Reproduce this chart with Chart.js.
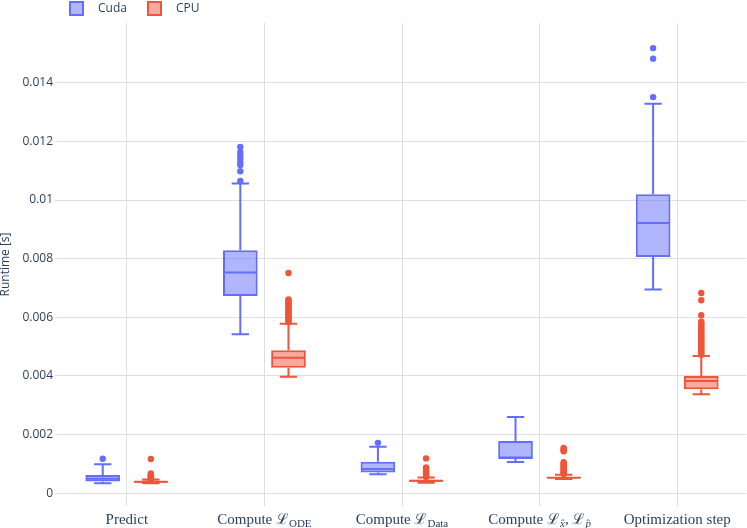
<!DOCTYPE html>
<html>
<head>
<meta charset="utf-8">
<script src="https://cdn.jsdelivr.net/npm/chart.js@4.4.1/dist/chart.umd.min.js"></script>
<style>
    html, body { margin: 0; padding: 0; background: #fff; }
    #wrap { width: 747px; height: 528px; }
</style>
</head>
<body>
<div id="wrap"><canvas id="runtimeChart"></canvas></div>
<script>
// Categories, _{...} marks a subscript
const categories = ['Predict', 'Compute ℒ_{ODE}', 'Compute ℒ_{Data}', 'Compute ℒ_{x̂}, ℒ_{p̂}', 'Optimization step'];
const yTicks = [0, 0.002, 0.004, 0.006, 0.008, 0.01, 0.012, 0.014];

// Cuda box stats
const cudaLow = [0.00034, 0.00542, 0.00065, 0.00107, 0.00695];
const cudaQ1 = [0.0004, 0.00673, 0.00071, 0.00117, 0.00806];
const cudaMedian = [0.0005, 0.00753, 0.00083, 0.00122, 0.00922];
const cudaQ3 = [0.00062, 0.00829, 0.00108, 0.00178, 0.0102];
const cudaHigh = [0.00099, 0.01056, 0.00159, 0.0026, 0.01328];
const cudaOutliers = [
    [0.00118],
    [0.01065, 0.01098, 0.01119, 0.01128, 0.0114, 0.0115, 0.01163, 0.01181],
    [0.00172],
    [],
    [0.01351, 0.01482, 0.01518]
];

// CPU box stats
const cpuLow = [0.00034, 0.00397, 0.00036, 0.00049, 0.00338];
const cpuQ1 = [0.00036, 0.00428, 0.00039, 0.00051, 0.00355];
const cpuMedian = [0.00039, 0.00462, 0.00043, 0.00053, 0.00383];
const cpuQ3 = [0.00042, 0.00488, 0.00046, 0.00056, 0.004];
const cpuHigh = [0.00047, 0.00578, 0.00054, 0.00063, 0.00468];
const cpuOutliers = [
    [0.00049, 0.00052, 0.00055, 0.00058, 0.00061, 0.00064, 0.00068, 0.00117],
    [0.00583, 0.00588, 0.00592, 0.00597, 0.00601, 0.00606, 0.0061, 0.00615, 0.0062, 0.00624,
     0.00629, 0.00633, 0.00638, 0.00643, 0.00647, 0.00652, 0.00656, 0.00661, 0.00751],
    [0.00056, 0.00059, 0.00062, 0.00066, 0.00069, 0.00073, 0.00077, 0.0008, 0.00084, 0.00088, 0.00119],
    [0.00066, 0.00069, 0.00073, 0.00076, 0.0008, 0.00083, 0.00087, 0.0009, 0.00094, 0.00098,
     0.00102, 0.00106, 0.00143, 0.00147, 0.00151, 0.00155],
    [0.00472, 0.00477, 0.00482, 0.00487, 0.00492, 0.00497, 0.00502, 0.00507, 0.00512, 0.00517,
     0.00522, 0.00527, 0.00533, 0.00538, 0.00543, 0.00548, 0.00553, 0.00558, 0.00564, 0.00569,
     0.00575, 0.0058, 0.00585, 0.00607, 0.00658, 0.00683]
];

const textColor = '#2a3f5f';
const gridColor = '#dedede';

const series = [
    { label: 'Cuda', color: '#636efa', fill: 'rgba(99, 110, 250, 0.5)',
      low: cudaLow, q1: cudaQ1, median: cudaMedian, q3: cudaQ3, high: cudaHigh, outliers: cudaOutliers },
    { label: 'CPU', color: '#ef553b', fill: 'rgba(239, 85, 59, 0.5)',
      low: cpuLow, q1: cpuQ1, median: cpuMedian, q3: cpuQ3, high: cpuHigh, outliers: cpuOutliers }
];

// whiskers, medians, outliers, legend and the x labels with subscripts
const boxExtras = {
    id: 'boxExtras',
    afterDatasetsDraw(chart) {
        const ctx = chart.ctx;
        const yScale = chart.scales.y;
        series.forEach((s, d) => {
            const meta = chart.getDatasetMeta(d);
            meta.data.forEach((bar, i) => {
                const x = bar.x;
                const half = bar.width / 2;
                const cap = bar.width / 4;
                const py = v => yScale.getPixelForValue(v);
                ctx.save();
                ctx.strokeStyle = s.color;
                ctx.lineWidth = 2;
                ctx.beginPath();
                ctx.moveTo(x, py(s.q3[i]));
                ctx.lineTo(x, py(s.high[i]));
                ctx.moveTo(x - cap, py(s.high[i]));
                ctx.lineTo(x + cap, py(s.high[i]));
                ctx.moveTo(x, py(s.q1[i]));
                ctx.lineTo(x, py(s.low[i]));
                ctx.moveTo(x - cap, py(s.low[i]));
                ctx.lineTo(x + cap, py(s.low[i]));
                ctx.moveTo(x - half + 1, py(s.median[i]));
                ctx.lineTo(x + half - 1, py(s.median[i]));
                ctx.stroke();
                ctx.fillStyle = s.color;
                s.outliers[i].forEach(v => {
                    ctx.beginPath();
                    ctx.arc(x, py(v), 3.2, 0, Math.PI * 2);
                    ctx.fill();
                });
                ctx.restore();
            });
        });
    },
    afterDraw(chart) {
        const ctx = chart.ctx;
        ctx.save();

        // legend
        ctx.font = '12px "Open Sans"';
        ctx.textBaseline = 'middle';
        ctx.textAlign = 'left';
        chart.data.datasets.forEach((ds, i) => {
            const lx = 70 + i * 78;
            ctx.fillStyle = ds.backgroundColor;
            ctx.fillRect(lx, 2, 13, 13);
            ctx.strokeStyle = ds.borderColor;
            ctx.lineWidth = 2;
            ctx.strokeRect(lx, 2, 13, 13);
            ctx.fillStyle = textColor;
            ctx.fillText(ds.label, lx + 28, 9);
        });

        // x labels
        const xScale = chart.scales.x;
        const mainFont = '15px "Liberation Serif", "DejaVu Serif", serif';
        const subFont = p => (p.normalize('NFD').length <= 2 ? 'italic ' : '') + '11px "Liberation Serif", "DejaVu Serif", serif';
        ctx.textBaseline = 'alphabetic';
        ctx.fillStyle = textColor;
        categories.forEach((label, i) => {
            const parts = label.split(/_\{([^}]*)\}/);
            let total = 0;
            parts.forEach((p, k) => {
                ctx.font = k % 2 ? subFont(p) : mainFont;
                total += ctx.measureText(p).width;
            });
            let px = xScale.getPixelForTick(i) - total / 2;
            parts.forEach((p, k) => {
                ctx.font = k % 2 ? subFont(p) : mainFont;
                ctx.fillText(p, px, k % 2 ? 527 : 524);
                px += ctx.measureText(p).width;
            });
        });
        ctx.restore();
    }
};

const ctx = document.getElementById('runtimeChart').getContext('2d');

const runtimeChart = new Chart(ctx, {
    type: 'bar',
    data: {
        labels: categories,
        datasets: series.map(s => ({
            label: s.label,
            data: categories.map((_, i) => [s.q1[i], s.q3[i]]),
            backgroundColor: s.fill,
            borderColor: s.color,
            borderWidth: 2,
            borderSkipped: false,
            categoryPercentage: 0.7,
            barPercentage: 0.72
        }))
    },
    options: {
        responsive: true,
        maintainAspectRatio: false,
        animation: false,
        layout: {
            padding: { top: 23, right: 1, bottom: 22, left: 0 }
        },
        plugins: {
            legend: { display: false },
            tooltip: { enabled: false }
        },
        scales: {
            x: {
                offset: true,
                grid: { offset: false, color: gridColor, drawTicks: false },
                border: { display: false },
                ticks: { display: false }
            },
            y: {
                min: -0.000433,
                max: 0.016036,
                afterBuildTicks: scale => {
                    scale.ticks = yTicks.map(v => ({ value: v }));
                },
                afterFit: scale => {
                    scale.width = 58;
                },
                grid: { color: gridColor, tickLength: 3 },
                border: { display: false },
                ticks: {
                    padding: 2,
                    color: textColor,
                    font: { family: 'Open Sans', size: 12 },
                    callback: v => String(parseFloat(Number(v).toFixed(3)))
                },
                title: {
                    display: true,
                    text: 'Runtime [s]',
                    color: textColor,
                    font: { family: 'Open Sans', size: 12, lineHeight: 1 },
                    padding: 0
                }
            }
        }
    },
    plugins: [boxExtras]
});
</script>
</body>
</html>
